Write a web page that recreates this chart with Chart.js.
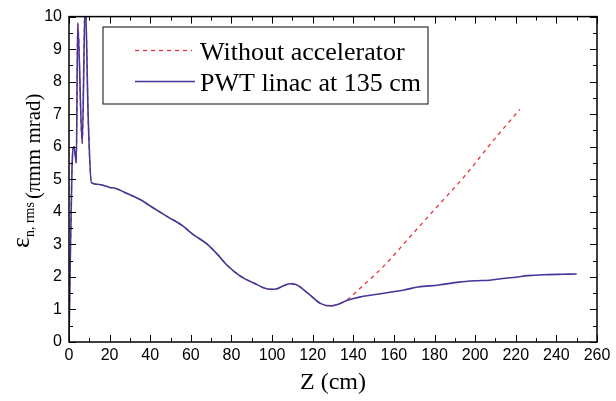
<!DOCTYPE html>
<html>
<head>
<meta charset="utf-8">
<script src="https://cdn.jsdelivr.net/npm/chart.js@4.4.0/dist/chart.umd.min.js"></script>
<style>
  html, body { margin: 0; padding: 0; background: #fff; }
</style>
</head>
<body>
<canvas id="canvas" width="616" height="401"></canvas>
<script>
// emittance along z
var zLinac = [0, 0.5, 1.5, 2.5, 3.6, 4.3, 6.5, 8, 9.5, 11, 15, 20, 23, 28, 35, 40, 48, 56, 61, 68, 73, 78, 84, 91, 99, 102, 106, 109, 112, 118, 124, 129, 133, 137, 143, 150, 158, 165, 172, 182, 192, 200, 207, 215, 220, 226, 236, 243, 250];
var epsLinac = [0, 2.0, 5.4, 6.0, 5.5, 9.8, 6.1, 10.5, 6.8, 4.9, 4.84, 4.75, 4.72, 4.58, 4.38, 4.18, 3.87, 3.57, 3.31, 3.01, 2.70, 2.35, 2.04, 1.81, 1.62, 1.63, 1.74, 1.79, 1.76, 1.48, 1.18, 1.11, 1.17, 1.28, 1.38, 1.45, 1.53, 1.60, 1.69, 1.75, 1.84, 1.88, 1.90, 1.96, 1.99, 2.04, 2.07, 2.08, 2.09];
var zNoAcc = [0, 0.5, 1.5, 2.5, 3.6, 4.3, 6.5, 8, 9.5, 11, 15, 20, 23, 28, 35, 40, 48, 56, 61, 68, 73, 78, 84, 91, 99, 102, 106, 109, 112, 118, 124, 129, 133, 137, 145, 154.5, 167.6, 180.7, 195.4, 208.5, 222];
var epsNoAcc = [0, 2.0, 5.4, 6.0, 5.5, 9.8, 6.1, 10.5, 6.8, 4.9, 4.84, 4.75, 4.72, 4.58, 4.38, 4.18, 3.87, 3.57, 3.31, 3.01, 2.70, 2.35, 2.04, 1.81, 1.62, 1.63, 1.74, 1.79, 1.76, 1.48, 1.18, 1.11, 1.17, 1.30, 1.75, 2.30, 3.21, 4.12, 5.14, 6.16, 7.15];
var xTicks = [0, 20, 40, 60, 80, 100, 120, 140, 160, 180, 200, 220, 240, 260];
var yTicks = [0, 1, 2, 3, 4, 5, 6, 7, 8, 9, 10];
var names = ['Without accelerator', 'PWT linac at 135 cm'];

function pts(xs, ys) {
  return xs.map(function(x, i) { return {x: x, y: ys[i]}; });
}

var redCol = '#e8323c';
var blueCol = '#45379a';

// frame with inward ticks on all four sides, axis titles, boxed legend
var decor = {
  id: 'decor',
  afterDatasetsDraw: function(chart) {
    var ctx = chart.ctx, a = chart.chartArea;
    var xs = chart.scales.x, ys = chart.scales.y;
    ctx.save();
    ctx.strokeStyle = '#000';
    ctx.lineWidth = 1;
    ctx.beginPath();
    xTicks.forEach(function(v, i) {
      var p = Math.round(xs.getPixelForValue(v)) + 0.5;
      ctx.moveTo(p, a.bottom); ctx.lineTo(p, a.bottom - 7);
      ctx.moveTo(p, a.top); ctx.lineTo(p, a.top + 7);
      if (i < xTicks.length - 1) {
        var m = Math.round(xs.getPixelForValue((v + xTicks[i + 1]) / 2)) + 0.5;
        ctx.moveTo(m, a.bottom); ctx.lineTo(m, a.bottom - 4);
        ctx.moveTo(m, a.top); ctx.lineTo(m, a.top + 4);
      }
    });
    yTicks.forEach(function(v, i) {
      var p = Math.round(ys.getPixelForValue(v)) + 0.5;
      ctx.moveTo(a.left, p); ctx.lineTo(a.left + 7, p);
      ctx.moveTo(a.right, p); ctx.lineTo(a.right - 7, p);
      if (i < yTicks.length - 1) {
        var m = Math.round(ys.getPixelForValue((v + yTicks[i + 1]) / 2)) + 0.5;
        ctx.moveTo(a.left, m); ctx.lineTo(a.left + 4, m);
        ctx.moveTo(a.right, m); ctx.lineTo(a.right - 4, m);
      }
    });
    ctx.stroke();
    ctx.lineWidth = 1.5;
    ctx.strokeRect(a.left, a.top, a.right - a.left, a.bottom - a.top);

    // legend
    ctx.fillStyle = '#fff';
    ctx.fillRect(103, 27, 325, 77);
    ctx.strokeStyle = '#333';
    ctx.lineWidth = 1.2;
    ctx.strokeRect(103, 27, 325, 77);
    ctx.lineWidth = 1.3;
    ctx.strokeStyle = redCol;
    ctx.setLineDash([4, 4]);
    ctx.beginPath(); ctx.moveTo(135, 50.5); ctx.lineTo(192, 50.5); ctx.stroke();
    ctx.setLineDash([]);
    ctx.strokeStyle = blueCol;
    ctx.lineWidth = 1.6;
    ctx.beginPath(); ctx.moveTo(135, 81.5); ctx.lineTo(195, 81.5); ctx.stroke();
    ctx.fillStyle = '#000';
    ctx.font = '26px "Liberation Serif"';
    ctx.textBaseline = 'alphabetic';
    ctx.textAlign = 'left';
    ctx.fillText(names[0], 200, 60);
    ctx.fillText(names[1], 200, 91);

    // x title
    ctx.font = '24px "Liberation Serif"';
    ctx.textAlign = 'center';
    ctx.fillText('Z (cm)', (a.left + a.right) / 2, 389);

    // y title, rotated
    ctx.translate(40, 248);
    ctx.rotate(-Math.PI / 2);
    ctx.textAlign = 'left';
    var x = 0;
    ctx.font = '26px "Liberation Serif"';
    ctx.fillText('\u03b5', x, -11);
    x += ctx.measureText('\u03b5').width;
    ctx.font = '14px "Liberation Serif"';
    ctx.fillText('n, rms', x, -6);
    x += ctx.measureText('n, rms').width + 3;
    ctx.font = '21px "Liberation Serif"';
    ctx.fillText('(\u03c0mm mrad)', x, 0);
    ctx.restore();
  }
};

new Chart(document.getElementById('canvas'), {
  type: 'line',
  data: {
    datasets: [
      {
        label: names[1],
        data: pts(zLinac, epsLinac),
        borderColor: blueCol,
        borderWidth: 1.6,
        pointRadius: 0,
        cubicInterpolationMode: 'monotone',
        fill: false
      },
      {
        label: names[0],
        data: pts(zNoAcc, epsNoAcc),
        borderColor: redCol,
        borderWidth: 1.3,
        borderDash: [4, 4],
        pointRadius: 0,
        cubicInterpolationMode: 'monotone',
        fill: false
      }
    ]
  },
  options: {
    responsive: false,
    animation: false,
    devicePixelRatio: 1,
    layout: { padding: { left: 0, right: 19, top: 15, bottom: 0 } },
    plugins: { legend: { display: false }, tooltip: { enabled: false } },
    scales: {
      x: {
        type: 'linear', min: 0, max: 260,
        afterBuildTicks: function(s) { s.ticks = xTicks.map(function(v) { return {value: v}; }); },
        afterFit: function(s) { s.height = 59; },
        ticks: { autoSkip: false, maxRotation: 0, padding: 4, color: '#000', font: { family: '"Liberation Sans"', size: 16 } },
        grid: { display: false, drawTicks: false },
        border: { display: false }
      },
      y: {
        min: 0, max: 10,
        afterBuildTicks: function(s) { s.ticks = yTicks.map(function(v) { return {value: v}; }); },
        afterFit: function(s) { s.width = 69; },
        ticks: { padding: 7, color: '#000', font: { family: '"Liberation Sans"', size: 16 } },
        grid: { display: false, drawTicks: false },
        border: { display: false }
      }
    }
  },
  plugins: [decor]
});
</script>
</body>
</html>
